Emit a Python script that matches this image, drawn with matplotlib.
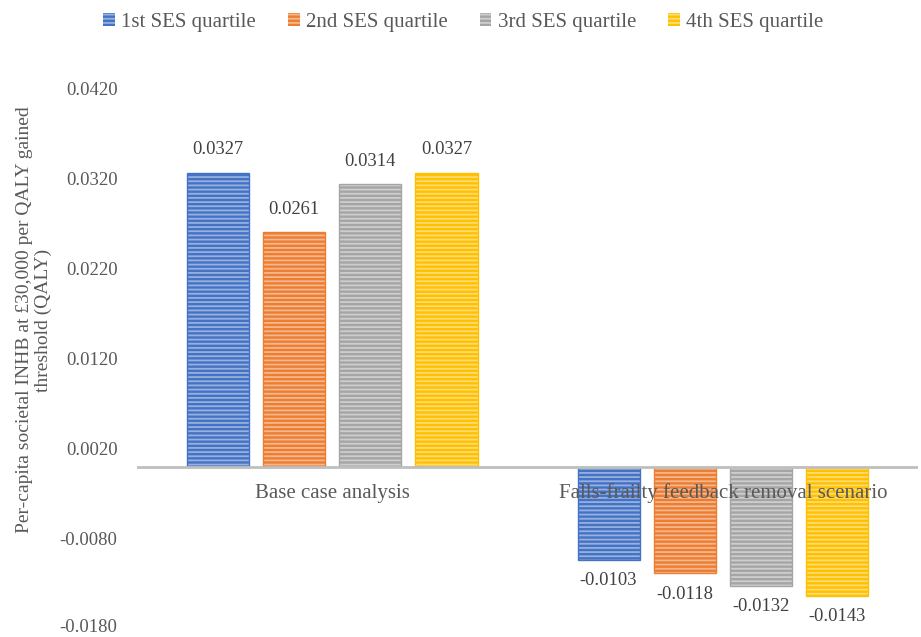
import matplotlib
matplotlib.use("Agg")
import matplotlib.pyplot as plt
import matplotlib.colors as mcolors
import matplotlib.transforms as mtransforms
import numpy as np

# 数据
scenarios = ["Base case analysis", "Falls-frailty feedback removal scenario"]
quartiles = ["1st SES quartile", "2nd SES quartile", "3rd SES quartile", "4th SES quartile"]
q1_values = [0.0327, -0.0103]
q2_values = [0.0261, -0.0118]
q3_values = [0.0314, -0.0132]
q4_values = [0.0327, -0.0143]
y_ticks = [-0.018, -0.008, 0.002, 0.012, 0.022, 0.032, 0.042]

colors = ["#4472C4", "#ED7D31", "#A5A5A5", "#FFC000"]
series = [q1_values, q2_values, q3_values, q4_values]

plt.rcParams["font.family"] = ["Liberation Serif", "DejaVu Serif"]
plt.rcParams["hatch.linewidth"] = 1.3

fig = plt.figure(figsize=(9.21, 6.37), dpi=100)
ax = fig.add_axes([0.1488, 0.0126, 0.848, 0.8477])

x = np.arange(len(scenarios))
width = 0.159
step = 0.195

def light(c, f=0.45):
    r, g, b = mcolors.to_rgb(c)
    return (r + (1 - r) * f, g + (1 - g) * f, b + (1 - b) * f)

handles = []
for i, (vals, col) in enumerate(zip(series, colors)):
    pos = x + (i - 1.5) * step
    # 条纹填充
    bars = ax.bar(pos, vals, width, color=col, edgecolor=light(col),
                  hatch="----", linewidth=0, zorder=2)
    ax.bar(pos, vals, width, fill=False, edgecolor=col, linewidth=1.0, zorder=3)
    handles.append(bars)
    for xp, v in zip(pos, vals):
        if v >= 0:
            ax.text(xp, v + 0.0016, f"{v:.4f}", ha="center", va="bottom",
                    fontsize=13.3, color="#404040")
        else:
            ax.text(xp, v - 0.0014, f"{v:.4f}", ha="center", va="top",
                    fontsize=13.3, color="#404040")

ax.set_xlim(-0.5, 1.5)
ax.set_ylim(-0.018, 0.042)
ax.axhline(0, color="#BFBFBF", linewidth=2, zorder=4)

# 类别标签放在零线下方
for xi, name in zip(x, scenarios):
    ax.text(xi, -0.0029, name, ha="center", va="center", fontsize=15,
            color="#595959", zorder=5)

ax.set_xticks([])
ax.set_yticks(y_ticks)
ax.set_yticklabels([f"{t:.4f}" for t in y_ticks], fontsize=13.5, color="#595959")
ax.tick_params(axis="y", length=0, pad=14)
for s in ax.spines.values():
    s.set_visible(False)

# 最底部的刻度标签稍微上移，避免被裁掉
bottom_label = ax.get_yticklabels()[0]
bottom_label.set_transform(bottom_label.get_transform()
                           + mtransforms.ScaledTranslation(0, 3 / 100, fig.dpi_scale_trans))

fig.text(0.037, 1 - 320 / 637,
         "Per-capita societal INHB at £30,000 per QALY gained\nthreshold (QALY)",
         rotation=90, ha="center", va="center", fontsize=14, color="#595959",
         linespacing=1.15)

leg = fig.legend(handles, quartiles, loc="center", bbox_to_anchor=(0.503, 0.965),
                 ncol=4, frameon=False, fontsize=15, handlelength=0.55,
                 handleheight=0.55, handletextpad=0.3, columnspacing=1.55)
for t in leg.get_texts():
    t.set_color("#595959")

fig.savefig("out.png", dpi=100)
